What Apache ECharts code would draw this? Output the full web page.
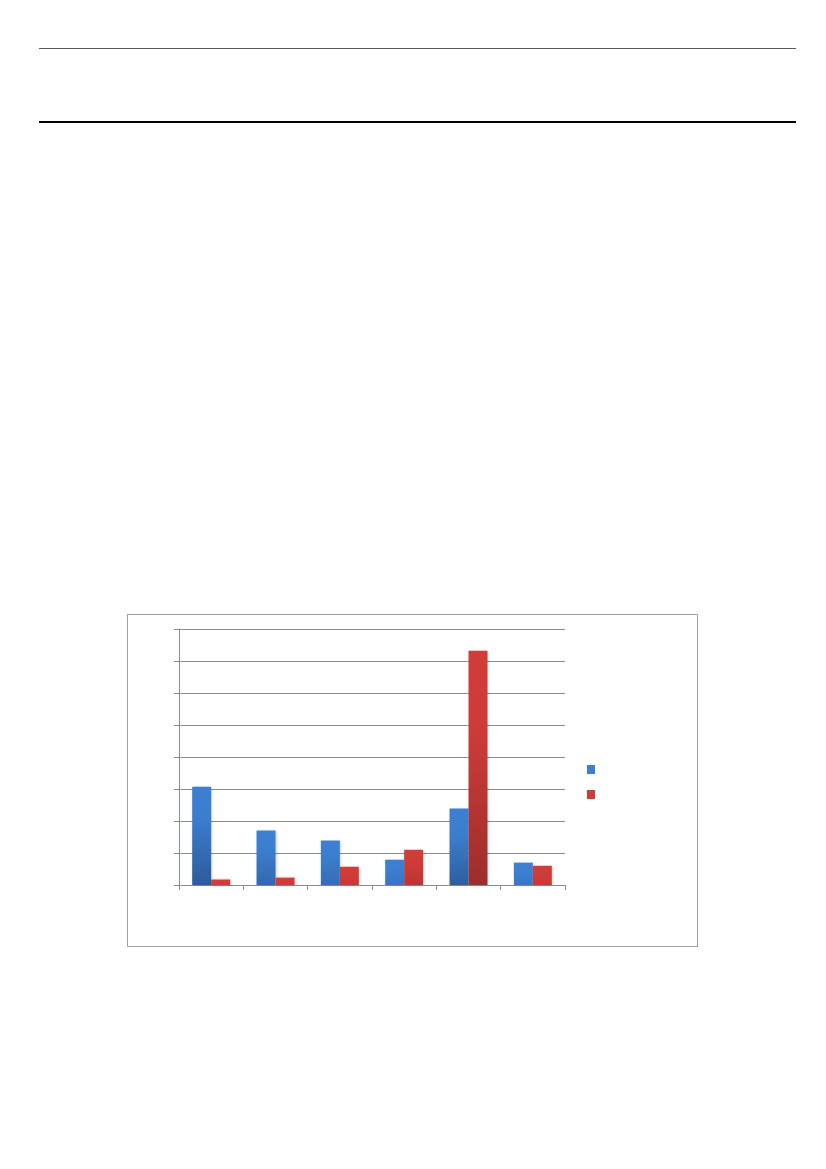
<!DOCTYPE html>
<html>
<head>
<meta charset="utf-8">
<script src="https://cdn.jsdelivr.net/npm/echarts@6/dist/echarts.min.js"></script>
<style>
html,body{margin:0;padding:0;background:#fff;width:826px;height:1169px;overflow:hidden;position:relative;font-family:"Liberation Sans",Arial,sans-serif;}
.rule1{position:absolute;left:39px;top:48px;width:757px;height:1px;background:#5a5a5a;}
.rule2{position:absolute;left:39px;top:121px;width:757px;height:1.5px;background:#000;}
#box{position:absolute;left:127px;top:614px;width:569px;height:331px;border:1px solid #a0a0a0;}
#chart{position:absolute;left:0;top:0;width:569px;height:331px;}
</style>
</head>
<body>
<div class="rule1"></div>
<div class="rule2"></div>
<div id="box"><div id="chart"></div></div>
<script>
const categories = ['1', '2', '3', '4', '5', '6'];
const seriesNames = ['Series 1', 'Series 2'];
const seriesA = [3.07, 1.70, 1.39, 0.79, 2.39, 0.70];
const seriesB = [0.17, 0.23, 0.57, 1.10, 7.32, 0.60];
const yTicks = { min: 0, max: 8, interval: 1 };

function mix(c1, c2, t) {
  const a = c1.match(/\w\w/g).map(h => parseInt(h, 16));
  const b = c2.match(/\w\w/g).map(h => parseInt(h, 16));
  return 'rgb(' + a.map((v, i) => Math.round(v + (b[i] - v) * t)).join(',') + ')';
}
function styled(values, top, bottom) {
  return values.map(v => {
    const t = Math.min(1, v / 2.6);
    return {
      value: v,
      itemStyle: {
        color: new echarts.graphic.LinearGradient(0, 0, 0, 1, [
          { offset: 0, color: mix(top, bottom, 0) },
          { offset: 0.35, color: mix(top, bottom, 0.1 * t) },
          { offset: 1, color: mix(top, bottom, t) }
        ])
      }
    };
  });
}

const chart = echarts.init(document.getElementById('chart'), null, { renderer: 'canvas' });
chart.setOption({
  animation: false,
  grid: { left: 51, top: 14, width: 386, height: 256, containLabel: false },
  legend: {
    orient: 'vertical',
    left: 454, top: 145,
    itemWidth: 8, itemHeight: 9, itemGap: 16,
    icon: 'rect',
    formatter: function () { return ''; },
    data: seriesNames
  },
  xAxis: {
    type: 'category',
    data: categories,
    axisLine: { lineStyle: { color: '#8c8c8c', width: 1 } },
    axisTick: { show: true, length: 5, lineStyle: { color: '#8c8c8c' } },
    axisLabel: { show: false }
  },
  yAxis: {
    type: 'value',
    min: yTicks.min, max: yTicks.max, interval: yTicks.interval,
    axisLine: { show: true, lineStyle: { color: '#8c8c8c', width: 1 } },
    axisTick: { show: true, length: 5, lineStyle: { color: '#8c8c8c' } },
    axisLabel: { show: false },
    splitLine: { lineStyle: { color: '#8c8c8c', width: 1 } }
  },
  series: [
    {
      name: seriesNames[0], type: 'bar', data: styled(seriesA, '3d80d2', '2c5c9b'),
      barGap: '0%', barCategoryGap: '41%',
      itemStyle: {
        color: '#3c7fd0',
        shadowBlur: 3, shadowColor: 'rgba(0,0,0,0.22)', shadowOffsetX: 1, shadowOffsetY: 0
      }
    },
    {
      name: seriesNames[1], type: 'bar', data: styled(seriesB, 'd23c39', '9c2e2b'),
      itemStyle: {
        color: '#d03b38',
        shadowBlur: 3, shadowColor: 'rgba(0,0,0,0.22)', shadowOffsetX: 1, shadowOffsetY: 0
      }
    }
  ],
  color: ['#3c7fd0', '#d03b38']
});
</script>
</body>
</html>
